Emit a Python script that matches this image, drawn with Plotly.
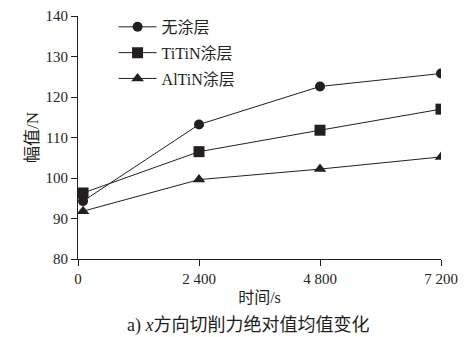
import plotly.graph_objects as go

# Cutting time (s) and mean absolute x-direction cutting force (N)
time_s = [100, 2400, 4800, 7200]
uncoated = [94.3, 113.2, 122.6, 125.8]
titin = [96.3, 106.5, 111.8, 117.0]
altin = [91.8, 99.6, 102.2, 105.2]

series_names = ["无涂层", "TiTiN涂层", "AlTiN涂层"]
x_tick_vals = [0, 2400, 4800, 7200]
x_tick_text = ["0", "2 400", "4 800", "7 200"]
y_tick_vals = [80, 90, 100, 110, 120, 130, 140]

INK = "#231f20"
FONT = "'Times New Roman', 'Liberation Serif', 'Noto Sans CJK SC', serif"

fig = go.Figure()
for i, (name, vals, sym, size) in enumerate(zip(
        series_names, [uncoated, titin, altin],
        ["circle", "square", "triangle-up"], [10, 11, 11])):
    fig.add_trace(go.Scatter(
        x=time_s, y=vals, name=name, mode="lines+markers",
        legendgroup=f"g{i}",
        line=dict(color=INK, width=1),
        marker=dict(symbol=sym, size=size, color=INK),
    ))

fig.update_layout(
    width=464, height=337,
    margin=dict(l=78, r=23, t=16, b=78, autoexpand=False),
    paper_bgcolor="white", plot_bgcolor="white",
    font=dict(family=FONT, size=15, color=INK),
    legend=dict(
        x=0.098, y=1.025, xanchor="left", yanchor="top",
        bgcolor="rgba(0,0,0,0)", tracegroupgap=2, itemwidth=38,
        font=dict(family=FONT, size=16, color=INK),
    ),
    xaxis=dict(
        range=[0, 7200], tickvals=x_tick_vals, ticktext=x_tick_text,
        showline=True, linecolor=INK, linewidth=1, showgrid=False,
        zeroline=False, ticks="outside", ticklen=6, tickcolor=INK,
        title=dict(text="时间/s", font=dict(size=16), standoff=5),
    ),
    yaxis=dict(
        range=[80, 140], tickvals=y_tick_vals,
        showline=True, linecolor=INK, linewidth=1, showgrid=False,
        zeroline=False, ticks="outside", ticklen=6, tickcolor=INK,
        title=dict(text="幅值/N", font=dict(size=17), standoff=2),
    ),
    annotations=[dict(
        text="a) <i>x</i>方向切削力绝对值均值变化",
        xref="paper", yref="paper", x=0.468, y=-0.272,
        xanchor="center", yanchor="middle", showarrow=False,
        font=dict(family=FONT, size=18, color=INK),
    )],
)

fig.write_html("out.html")
